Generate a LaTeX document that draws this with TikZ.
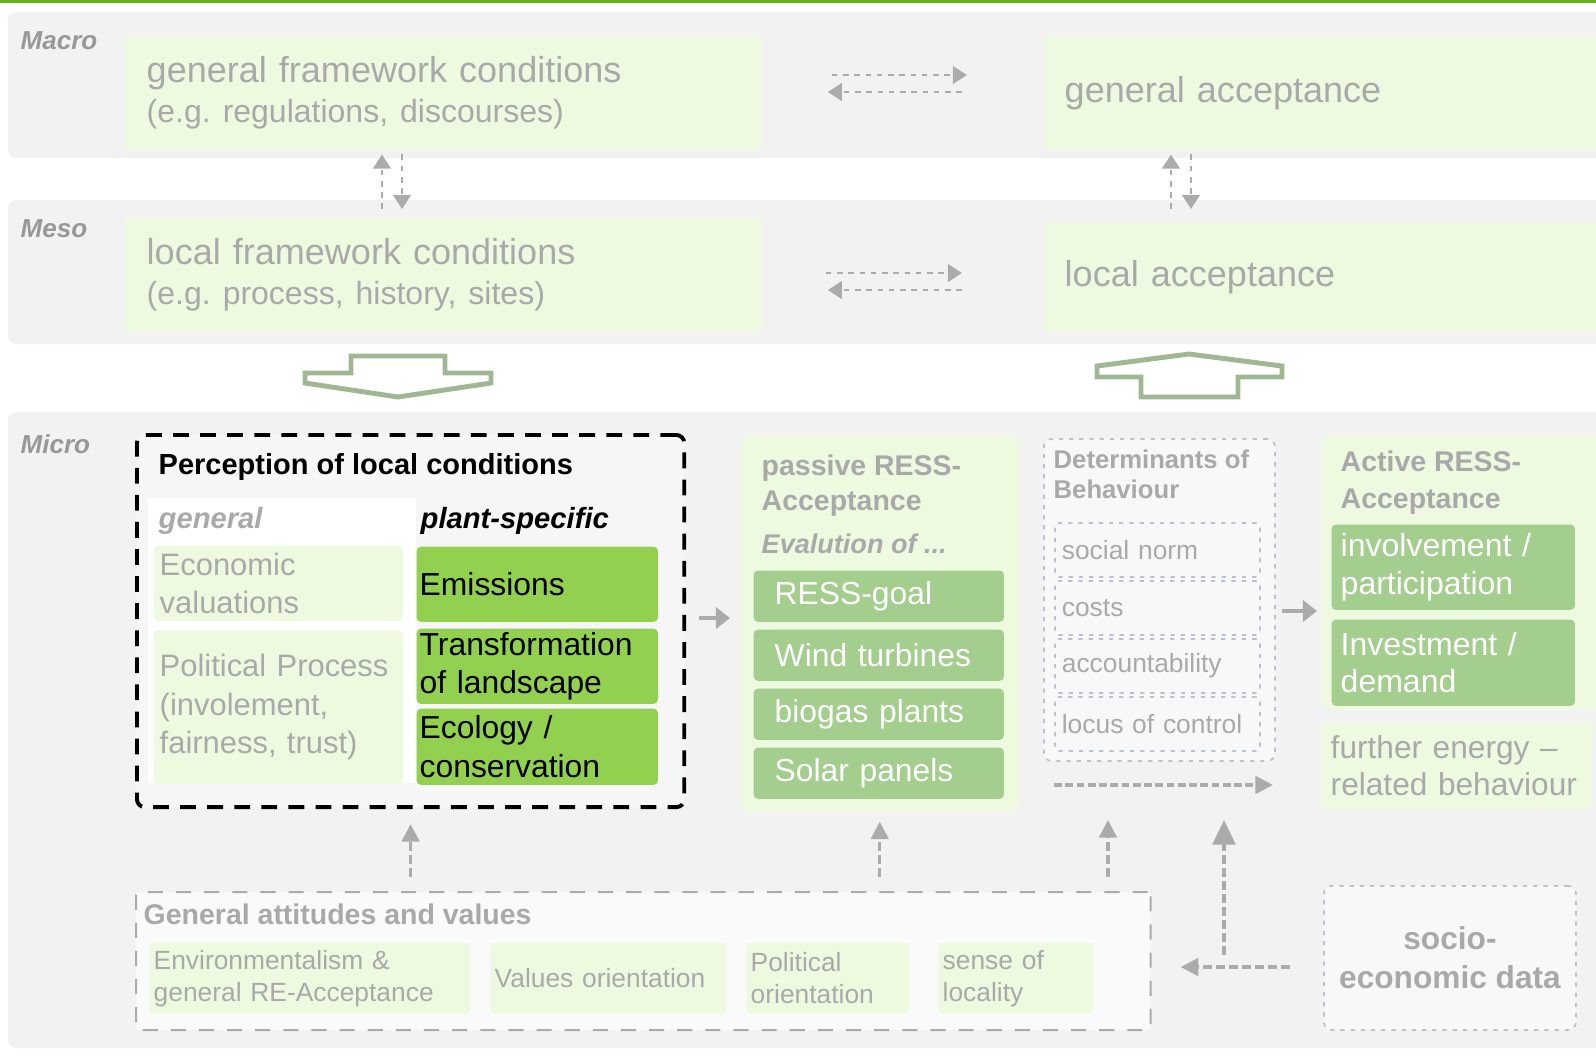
\documentclass[tikz,border=0pt]{standalone}
\usepackage{fontspec}
\setmainfont{Liberation Sans}
\usetikzlibrary{arrows.meta,positioning}
\frenchspacing

\definecolor{topline}{HTML}{67B21C}
\definecolor{bandgray}{HTML}{F2F2F2}
\definecolor{palegreen}{HTML}{EDFADF}
\definecolor{midgreen}{HTML}{A3CE8E}
\definecolor{planted}{HTML}{92D050}
\definecolor{fadetext}{HTML}{A9A9A9}
\definecolor{fadeline}{HTML}{ABABAB}
\definecolor{fadeblue}{HTML}{B7C3D3}
\definecolor{blockgreen}{HTML}{9FB893}
\definecolor{percepfill}{HTML}{F6F6F6}

\newcommand{\setfs}[2]{\fontsize{#1}{#2}\selectfont}

\tikzset{
  band/.style={fill=bandgray, rounded corners=0.08cm},
  cell/.style={anchor=north west, inner ysep=0pt, align=left, rounded corners=0.04cm},
  palebox/.style={cell, fill=palegreen, text=fadetext},
  greenbox/.style={cell, fill=planted, text=black},
  evalbox/.style={cell, fill=midgreen, text=white},
  detbox/.style={cell, draw=fadeblue, line width=0.5pt, dash pattern=on 1.2pt off 1.7pt, text=fadetext},
  lvl/.style={anchor=base west, inner sep=0pt, text=fadetext},
  headtxt/.style={anchor=north west, inner sep=0pt, align=left, text=fadetext},
  dotarr/.style={draw=fadeline, line width=0.7pt, dash pattern=on 1.6pt off 1.6pt, -{Triangle[length=4pt, width=5pt]}},
  uparr/.style={draw=fadeline, line width=0.9pt, dash pattern=on 2.5pt off 1.2pt, -{Triangle[length=5pt, width=5pt]}},
  fatarr/.style={draw=fadeline, line width=1.2pt, -{Triangle[length=4pt, width=6pt]}},
  bigarrow/.style={draw=blockgreen, line width=1.4pt, fill=white, line join=miter},
}

\begin{document}
\begin{tikzpicture}[x=0.01cm, y=-0.01cm]
\useasboundingbox (0,0) rectangle (1596,1056);

% levels
\fill[topline] (0,0) rectangle (1596,3);
\fill[band] (8,12) rectangle (1620,158);
\fill[band] (8,200) rectangle (1620,344);
\fill[band] (8,412) rectangle (1620,1048);
\node[lvl, text=fadetext!90!black, font=\setfs{7.4}{9}\bfseries\itshape] (macro) at (20,49) {Macro};
\node[lvl, text=fadetext!90!black, font=\setfs{7.4}{9}\bfseries\itshape] (meso) at (20,237) {Meso};
\node[lvl, text=fadetext!90!black, font=\setfs{7.4}{9}\bfseries\itshape] (micro) at (20,453) {Micro};

% macro and meso
\node[palebox, text width=5.93cm, inner xsep=0.22cm, minimum height=1.12cm, font=\setfs{10.25}{11.4}] (gfc) at (124,36)
  {general framework conditions\\{\setfs{9.1}{11.4}(e.g. regulations, discourses)}};
\node[palebox, text width=5.28cm, inner xsep=0.21cm, minimum height=1.12cm, font=\setfs{10.25}{12}] (ga) at (1043,36) {general acceptance};
\node[palebox, text width=5.93cm, inner xsep=0.22cm, minimum height=1.14cm, font=\setfs{10.25}{11.4}] (lfc) at (124,217)
  {local framework conditions\\{\setfs{9.1}{11.4}(e.g. process, history, sites)}};
\node[palebox, text width=5.28cm, inner xsep=0.21cm, minimum height=1.09cm, font=\setfs{10.25}{12}] (la) at (1043,222) {local acceptance};

\draw[dotarr, shorten <=0.69cm, shorten >=0.76cm] (gfc.east |- 0,75) -- (ga.west |- 0,75);
\draw[dotarr, shorten <=0.81cm, shorten >=0.65cm] (ga.west |- 0,92) -- (gfc.east |- 0,92);
\draw[dotarr, shorten <=0.63cm, shorten >=0.81cm] (lfc.east |- 0,273) -- (la.west |- 0,273);
\draw[dotarr, shorten <=0.81cm, shorten >=0.65cm] (la.west |- 0,290) -- (lfc.east |- 0,290);
\draw[dotarr, shorten <=0.08cm, shorten >=0.05cm] (lfc.north -| 382,0) -- (gfc.south -| 382,0);
\draw[dotarr, shorten <=0.05cm, shorten >=0.08cm] (gfc.south -| 402,0) -- (lfc.north -| 402,0);
\draw[dotarr, shorten <=0.13cm, shorten >=0.05cm] (la.north -| 1171,0) -- (ga.south -| 1171,0);
\draw[dotarr, shorten <=0.05cm, shorten >=0.13cm] (ga.south -| 1191,0) -- (la.north -| 1191,0);

\draw[bigarrow] (351,356) -- (445,356) -- (445,373) -- (491,373) -- (491,383) -- (398,397)
  -- (305,383) -- (305,373) -- (351,373) -- cycle;
\draw[bigarrow] (1189,354) -- (1282,366) -- (1282,377) -- (1238,377) -- (1238,397)
  -- (1141,397) -- (1141,377) -- (1097,377) -- (1097,366) -- cycle;

% perception of local conditions
\node[draw=black, line width=1.1pt, dash pattern=on 4.5pt off 3.2pt, fill=percepfill, rounded corners=0.08cm,
  anchor=north west, minimum width=5.47cm, minimum height=3.72cm, inner sep=0pt] (percep) at (135,433) {};
\fill[white] (148,498) rectangle (416,783);
\node[anchor=base west, inner sep=0pt, font=\setfs{8.25}{10}\bfseries] (perctitle) at (158,474) {Perception of local conditions};
\node[lvl, font=\setfs{8.3}{10}\bfseries\itshape] (gencol) at (158,528) {general};
\node[lvl, text=black, font=\setfs{8.3}{10}\bfseries\itshape] (plantcol) at (420,528) {plant-specific};
\node[palebox, text width=2.37cm, inner xsep=0.06cm, minimum height=0.75cm, font=\setfs{8.8}{10.7}] (econ) at (153,545) {Economic\\valuations};
\node[palebox, text width=2.37cm, inner xsep=0.06cm, minimum height=1.53cm, font=\setfs{8.8}{11}] (polit) at (153,630) {Political Process\\(involement,\\fairness, trust)};
\node[greenbox, text width=2.35cm, inner xsep=0.03cm, minimum height=0.75cm, font=\setfs{9.05}{11}] (emis) at (416,546) {Emissions};
\node[greenbox, text width=2.35cm, inner xsep=0.03cm, minimum height=0.75cm, font=\setfs{9.05}{11}] (transf) at (416,628) {Transformation\\of landscape};
\node[greenbox, text width=2.35cm, inner xsep=0.03cm, minimum height=0.76cm, font=\setfs{9.05}{11}] (ecol) at (416,708) {Ecology /\\conservation};

% passive acceptance
\node[cell, fill=palegreen, minimum width=2.78cm, minimum height=3.76cm, inner sep=0pt, rounded corners=0.08cm] (passive) at (740,435) {};
\node[headtxt, font=\setfs{8.1}{10}\bfseries] (passtitle) at (761,454) {passive RESS-\\Acceptance};
\node[lvl, font=\setfs{7.7}{9}\bfseries\itshape] (evalof) at (761,553) {Evalution of ...};
\node[evalbox, text width=2.08cm, inner xsep=0.21cm, minimum height=0.51cm, font=\setfs{9.05}{11}] (goal) at (753,570) {RESS-goal};
\node[evalbox, text width=2.08cm, inner xsep=0.21cm, minimum height=0.51cm, font=\setfs{9.05}{11}] (wind) at (753,629) {Wind turbines};
\node[evalbox, text width=2.08cm, inner xsep=0.21cm, minimum height=0.51cm, font=\setfs{9.05}{11}] (biogas) at (753,688) {biogas plants};
\node[evalbox, text width=2.08cm, inner xsep=0.21cm, minimum height=0.51cm, font=\setfs{9.05}{11}] (solar) at (753,747) {Solar panels};

% determinants
\node[detbox, fill=white!50!bandgray, minimum width=2.31cm, minimum height=3.22cm, inner sep=0pt, rounded corners=0.08cm] (det) at (1043,438) {};
\node[headtxt, font=\setfs{7.3}{8.6}\bfseries] (dettitle) at (1053,449) {Determinants of\\Behaviour};
\node[detbox, text width=1.91cm, inner xsep=0.07cm, minimum height=0.54cm, font=\setfs{7.5}{9}] (norm) at (1054,522) {social norm};
\node[detbox, text width=1.91cm, inner xsep=0.07cm, minimum height=0.54cm, font=\setfs{7.5}{9}] (costs) at (1054,580) {costs};
\node[detbox, text width=1.91cm, inner xsep=0.07cm, minimum height=0.54cm, font=\setfs{7.5}{9}] (account) at (1054,638) {accountability};
\node[detbox, text width=1.91cm, inner xsep=0.07cm, minimum height=0.54cm, font=\setfs{7.5}{9}] (locus) at (1054,696) {locus of control};

% active acceptance
\node[cell, fill=palegreen, minimum width=2.9cm, minimum height=2.73cm, inner sep=0pt, rounded corners=0.08cm] (active) at (1320,435) {};
\node[headtxt, font=\setfs{8.1}{10.5}\bfseries] (acttitle) at (1340,450) {Active RESS-\\Acceptance};
\node[evalbox, text width=2.25cm, inner xsep=0.09cm, minimum height=0.85cm, font=\setfs{9.1}{10.6}] (involve) at (1331,524) {involvement /\\participation};
\node[evalbox, text width=2.25cm, inner xsep=0.09cm, minimum height=0.86cm, font=\setfs{9.1}{10.6}] (invest) at (1331,619) {Investment /\\demand};
\node[palebox, text width=2.51cm, inner xsep=0.1cm, minimum height=0.86cm, font=\setfs{9}{10.3}] (further) at (1320,722) {further energy --\\related behaviour};

% general attitudes and socio-economic data
\node[cell, draw=fadeline, line width=0.6pt, dash pattern=on 4.3pt off 3.7pt, fill=white!60!bandgray,
  minimum width=10.14cm, minimum height=1.38cm, inner sep=0pt, rounded corners=0.03cm] (gav) at (135,891) {};
\node[lvl, font=\setfs{8.1}{10}\bfseries] (gavtitle) at (143,924) {General attitudes and values};
\node[palebox, text width=3.12cm, inner xsep=0.04cm, minimum height=0.71cm, font=\setfs{7.5}{9.1}] (envir) at (149,942) {Environmentalism \&\\general RE-Acceptance};
\node[palebox, text width=2.28cm, inner xsep=0.04cm, minimum height=0.71cm, font=\setfs{7.5}{9.1}] (valor) at (490,942) {Values orientation};
\node[palebox, text width=1.54cm, inner xsep=0.04cm, minimum height=0.71cm, font=\setfs{7.5}{9.1}] (polor) at (746,942) {Political\\orientation};
\node[palebox, text width=1.46cm, inner xsep=0.04cm, minimum height=0.71cm, font=\setfs{7.5}{9.1}] (local) at (938,942) {sense of\\locality};
\node[detbox, fill=white!50!bandgray, minimum width=2.52cm, minimum height=1.44cm, align=center, rounded corners=0.08cm,
  font=\setfs{9}{11}\bfseries] (socio) at (1323,885) {socio-\\economic data};

% connectors
\draw[fatarr, shorten <=0.13cm, shorten >=0.1cm] (percep.east |- 0,618) -- (passive.west |- 0,618);
\draw[fatarr, shorten <=0.06cm, shorten >=0.03cm] (det.east |- 0,611) -- (active.west |- 0,611);
\draw[uparr, dash pattern=on 2.2pt off 1pt] ([shift={(11,23)}]det.south west) -- ([shift={(-3,23)}]det.south east);
\draw[uparr, shorten <=0.14cm, shorten >=0.15cm] (percep.south |- gav.north) -- (percep.south);
\draw[uparr, shorten <=0.14cm, shorten >=0.09cm] (passive.south |- gav.north) -- (passive.south);
\coordinate (detin) at (1108,820);
\draw[uparr, shorten <=0.14cm] (gav.north -| detin) -- (detin);
\coordinate (socin) at (1224,820);
\draw[uparr, -{Triangle[length=7pt, width=6.5pt]}] (socin |- 0,955) -- (socin);
\draw[uparr, shorten <=0.33cm, shorten >=0.29cm] (socio.west |- 0,967) -- (gav.east |- 0,967);
\end{tikzpicture}
\end{document}
